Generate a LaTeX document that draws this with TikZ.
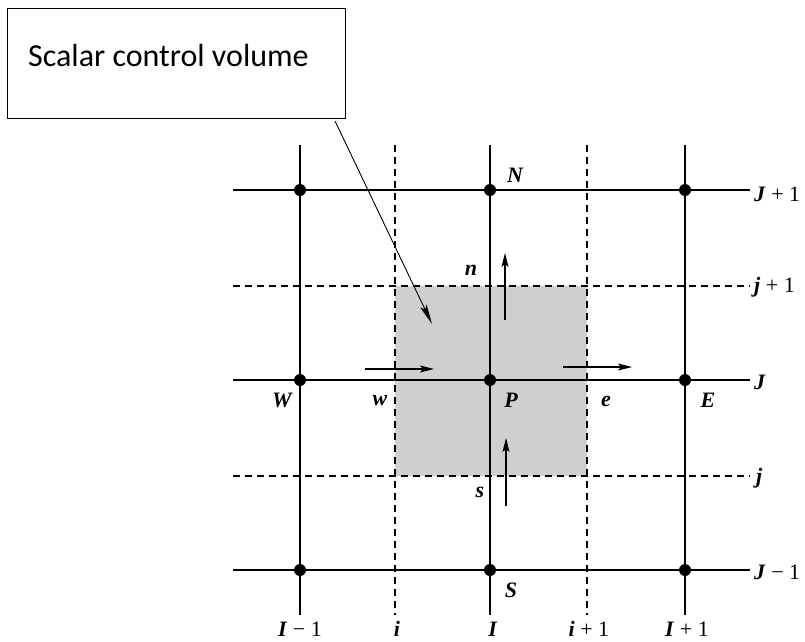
\documentclass[tikz,border=0pt]{standalone}
\usepackage{fontspec}
\setmainfont{Liberation Serif}
\newfontfamily\calib{Carlito}
\usetikzlibrary{arrows.meta}
\begin{document}
\begin{tikzpicture}[x=1pt,y=-1pt,
  solidline/.style={line width=1.3pt},
  dashline/.style={line width=1.1pt, dash pattern=on 7pt off 5pt},
  dot/.style={circle, fill=black, inner sep=0pt, minimum size=12pt},
  lab/.style={font=\fontsize{22}{24}\selectfont\bfseries\itshape, inner sep=0pt},
  idx/.style={font=\fontsize{22}{24}\selectfont, inner sep=0pt},
  flux/.style={line width=1.1pt, -{Stealth[length=14pt,width=7pt,inset=3pt]}},
  leader/.style={line width=0.9pt, -{Stealth[length=20pt,width=7pt,inset=4pt]}}]
\useasboundingbox (0,0) rectangle (805,641);

% shaded control volume
\fill[gray!38] (395,286) rectangle (587,476);

% end coordinates of grid lines
\foreach \n/\y in {Jp/190, jp/286, J/380, jm/476, Jm/570}{
  \coordinate (\n L) at (233,\y);
  \coordinate (\n R) at (750,\y);
}
\foreach \n/\x in {Im/300, i/395, I/490, ip/587, Ip/685}{
  \coordinate (\n T) at (\x,145);
  \coordinate (\n B) at (\x,615);
}

% grid lines
\draw[solidline] (JpL) -- (JpR);
\draw[solidline] (JL) -- (JR);
\draw[solidline] (JmL) -- (JmR);
\draw[dashline] (jpL) -- (jpR);
\draw[dashline] (jmL) -- (jmR);
\draw[solidline] (ImT) -- (ImB);
\draw[solidline] (IT) -- (IB);
\draw[solidline] (IpT) -- (IpB);
\draw[dashline] (iT) -- (iB);
\draw[dashline] (ipT) -- (ipB);

% nodes
\node[dot] (NW) at (300,190) {};
\node[dot] (N)  at (490,190) {};
\node[dot] (NE) at (685,190) {};
\node[dot] (W)  at (300,380) {};
\node[dot] (P)  at (490,380) {};
\node[dot] (E)  at (685,380) {};
\node[dot] (SW) at (300,570) {};
\node[dot] (S)  at (490,570) {};
\node[dot] (SE) at (685,570) {};

% dotted face line inside the control volume
\coordinate (wf) at (395,380);
\coordinate (ef) at (587,380);
\draw[line width=2.2pt, dash pattern=on 1.2pt off 1.2pt] (wf) -- (P) -- (ef);

% flux arrows
\coordinate (wa1) at (365,369); \coordinate (wa2) at (434,369);
\coordinate (ea1) at (563,367); \coordinate (ea2) at (632,367);
\coordinate (na1) at (505,320); \coordinate (na2) at (505,253);
\coordinate (sa1) at (506,506); \coordinate (sa2) at (506,438);
\draw[flux] (wa1) -- (wa2);
\draw[flux] (ea1) -- (ea2);
\draw[flux] (na1) -- (na2);
\draw[flux] (sa1) -- (sa2);

% node labels
\node[lab] (labN) at (515,175) {N};
\node[lab] (labP) at (511,400) {P};
\node[lab] (labE) at (708,400) {E};
\node[lab] (labW) at (282,400) {W};
\node[lab] (labS) at (511,590) {S};
\node[lab] (labw) at (380,401) {w};
\node[lab] (labe) at (606,401) {e};
\node[lab] (labn) at (471,270) {n};
\node[lab] (labs) at (480,492) {s};

% right index labels
\node[idx, anchor=west] (lJp) at (754,194) {\textbf{\textit{J}} + 1};
\node[idx, anchor=west] (ljp) at (754,287) {\textbf{\textit{j}} + 1};
\node[idx, anchor=west] (lJ)  at (754,382) {\textbf{\textit{J}}};
\node[idx, anchor=west] (ljm) at (756,478) {\textbf{\textit{j}}};
\node[idx, anchor=west] (lJm) at (754,572) {\textbf{\textit{J}} − 1};

% bottom index labels
\node[idx] (lIm) at (300,629) {\textbf{\textit{I}} − 1};
\node[idx] (li)  at (397,629) {\textbf{\textit{i}}};
\node[idx] (lI)  at (493,629) {\textbf{\textit{I}}};
\node[idx] (lip) at (589,629) {\textbf{\textit{i}} + 1};
\node[idx] (lIp) at (687,629) {\textbf{\textit{I}} + 1};

% callout box
\node[draw, line width=1pt, anchor=north west, minimum width=338pt, minimum height=110pt, inner sep=0pt] (box) at (7,8) {};
\node[font=\calib\fontsize{32}{34}\selectfont, anchor=base west, inner sep=0pt] (boxtext) at (28,66) {Scalar control volume};
\coordinate (leadS) at (335,121);
\coordinate (leadE) at (432,324);
\draw[leader] (leadS) -- (leadE);
\end{tikzpicture}
\end{document}
